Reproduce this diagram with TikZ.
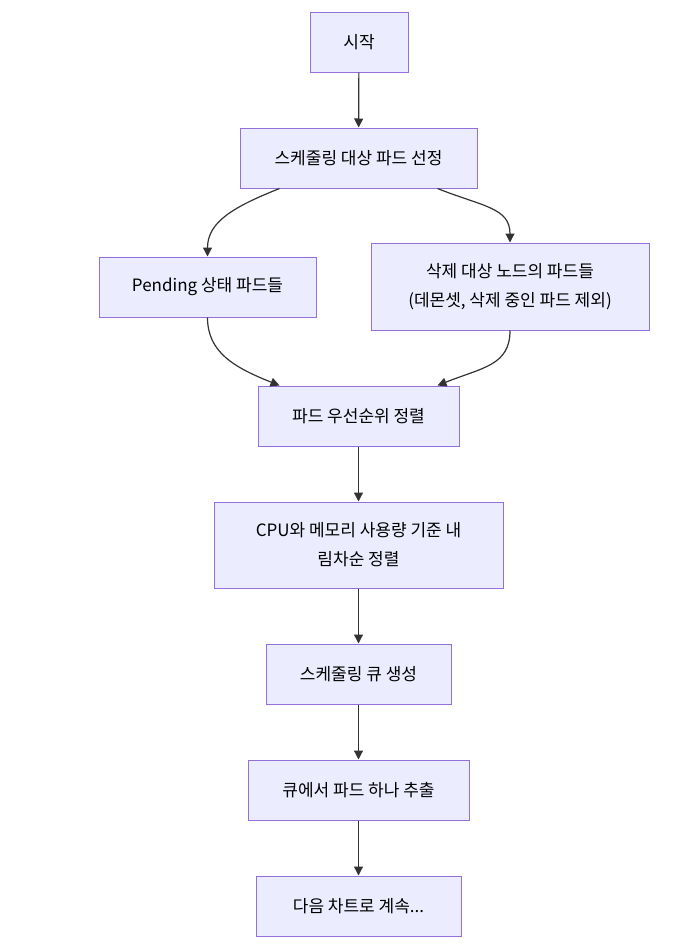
\documentclass[tikz,border=0pt]{standalone}
\usepackage{fontspec}
\setmainfont{Noto Sans CJK KR}
\usetikzlibrary{arrows.meta}
\definecolor{boxfill}{HTML}{ECECFF}
\definecolor{boxline}{HTML}{9370DB}
\definecolor{linkline}{HTML}{333333}

\begin{document}
\begin{tikzpicture}[x=1pt,y=1pt,
    box/.style={draw=boxline,fill=boxfill,line width=1pt,align=center,
        inner sep=0pt,minimum height=60pt,font=\fontsize{17}{29}\selectfont},
    arr/.style={draw=linkline,line width=1.2pt,-{Triangle[length=9pt,width=9pt]}}]
    \useasboundingbox (0,0) rectangle (700,-945);
    % nodes
    \node[box,minimum width=98pt] (start) at (359,-42) {시작};
    \node[box,minimum width=237pt] (select) at (358.5,-158) {스케줄링 대상 파드 선정};
    \node[box,minimum width=217pt] (pending) at (207.5,-287) {Pending 상태 파드들};
    \node[box,minimum width=278pt,minimum height=87pt] (drain) at (510,-286.5)
        {삭제 대상 노드의 파드들\\(데몬셋, 삭제 중인 파드 제외)};
    \node[box,minimum width=201pt] (prio) at (358.5,-416) {파드 우선순위 정렬};
    \node[box,minimum width=289pt,minimum height=86pt] (sort) at (358.5,-545)
        {CPU와 메모리 사용량 기준 내\\림차순 정렬};
    \node[box,minimum width=185pt] (queue) at (358.5,-674) {스케줄링 큐 생성};
    \node[box,minimum width=221pt] (pop) at (358.5,-790) {큐에서 파드 하나 추출};
    \node[box,minimum width=205pt] (next) at (358.5,-906) {다음 차트로 계속...};
    % links
    \draw[arr] (start) -- (select);
    \draw[arr] ([xshift=40pt]select.south west) .. controls +(-45,-18) and +(0,35) .. (pending.north);
    \draw[arr] ([xshift=-40pt]select.south east) .. controls +(45,-18) and +(0,35) .. (drain.north);
    \draw[arr] (pending.south) .. controls +(0,-35) and +(-45,18) .. ([xshift=22pt]prio.north west);
    \draw[arr] (drain.south) .. controls +(0,-35) and +(45,18) .. ([xshift=-22pt]prio.north east);
    \draw[arr] (prio) -- (sort);
    \draw[arr] (sort) -- (queue);
    \draw[arr] (queue) -- (pop);
    \draw[arr] (pop) -- (next);
\end{tikzpicture}
\end{document}
